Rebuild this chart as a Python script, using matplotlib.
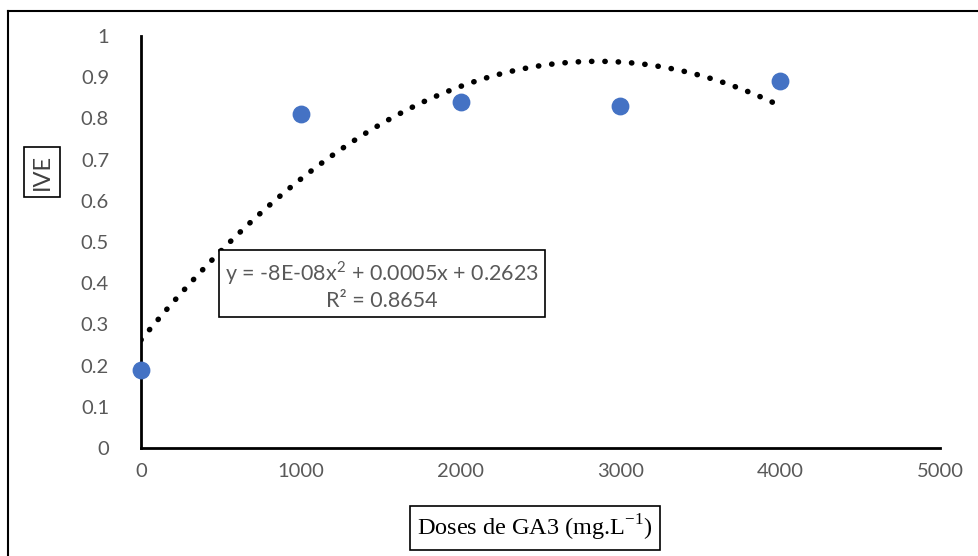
import numpy as np
import matplotlib
matplotlib.use("Agg")
import matplotlib.pyplot as plt
from matplotlib.lines import Line2D

# Data
doses = [0, 1000, 2000, 3000, 4000]
ive = [0.19, 0.81, 0.84, 0.83, 0.89]
x_ticks = [0, 1000, 2000, 3000, 4000, 5000]
y_ticks = [0, 0.1, 0.2, 0.3, 0.4, 0.5, 0.6, 0.7, 0.8, 0.9, 1]
equation = "y = -8E-08x$^{\\mathregular{2}}$ + 0.0005x + 0.2623\nR² = 0.8654"

# Polynomial trendline (order 2), as in the spreadsheet
coef = np.polyfit(doses, ive, 2)
xs = np.linspace(0, 4000, 200)
ys = np.polyval(coef, xs)

fig = plt.figure(figsize=(9.79, 5.56), dpi=100)
ax = fig.add_axes([141 / 979, 1 - 448 / 556, (940 - 141) / 979, (448 - 36) / 556])

ax.plot(xs, ys, color="black", linewidth=4, linestyle=(0, (0.05, 2.35)),
        dash_capstyle="round", zorder=2)
ax.scatter(doses, ive, s=140, color="#4472C4", zorder=3, clip_on=False)

ax.set_xlim(0, 5000)
ax.set_ylim(0, 1)
ax.set_xticks(x_ticks)
ax.set_yticks(y_ticks)
ax.set_xticklabels([str(t) for t in x_ticks])
ax.set_yticklabels([f"{t:g}" for t in y_ticks])
ax.tick_params(length=0, labelsize=14.5, labelcolor="#595959")
for lab in ax.get_xticklabels() + ax.get_yticklabels():
    lab.set_fontfamily("Lato")
ax.tick_params(axis="y", pad=23)
ax.tick_params(axis="x", pad=11)

for side in ["top", "right"]:
    ax.spines[side].set_visible(False)
for side in ["left", "bottom"]:
    ax.spines[side].set_linewidth(2)
    ax.spines[side].set_color("black")

# trendline label
ax.text(1508, 0.396, equation, ha="center", va="center",
        fontsize=15.5, color="#595959", family="Lato", linespacing=1.25,
        bbox=dict(boxstyle="square,pad=0.3", facecolor="white",
                  edgecolor="black", linewidth=1.2), zorder=4)

# axis titles in boxes
fig.text(42 / 979, 1 - 172 / 556, "IVE", rotation=90, ha="center", va="center",
         fontsize=17, color="#404040", family="Lato",
         bbox=dict(boxstyle="square,pad=0.3", facecolor="white",
                   edgecolor="black", linewidth=1.2))
fig.text(535 / 979, 1 - 528 / 556, "Doses de GA3 (mg.L$^{\\mathregular{-1}}$)",
         ha="center", va="center", fontsize=17.5, color="black",
         family="Liberation Serif",
         bbox=dict(boxstyle="square,pad=0.3", facecolor="white",
                   edgecolor="black", linewidth=1.2))

# outer chart frame (left and top edges visible)
fig.add_artist(Line2D([8 / 979, 8 / 979], [0, 1 - 11 / 556], color="black",
                      linewidth=1.5, transform=fig.transFigure))
fig.add_artist(Line2D([8 / 979, 1], [1 - 11 / 556, 1 - 11 / 556], color="black",
                      linewidth=1.5, transform=fig.transFigure))

fig.savefig("out.png", dpi=100)
